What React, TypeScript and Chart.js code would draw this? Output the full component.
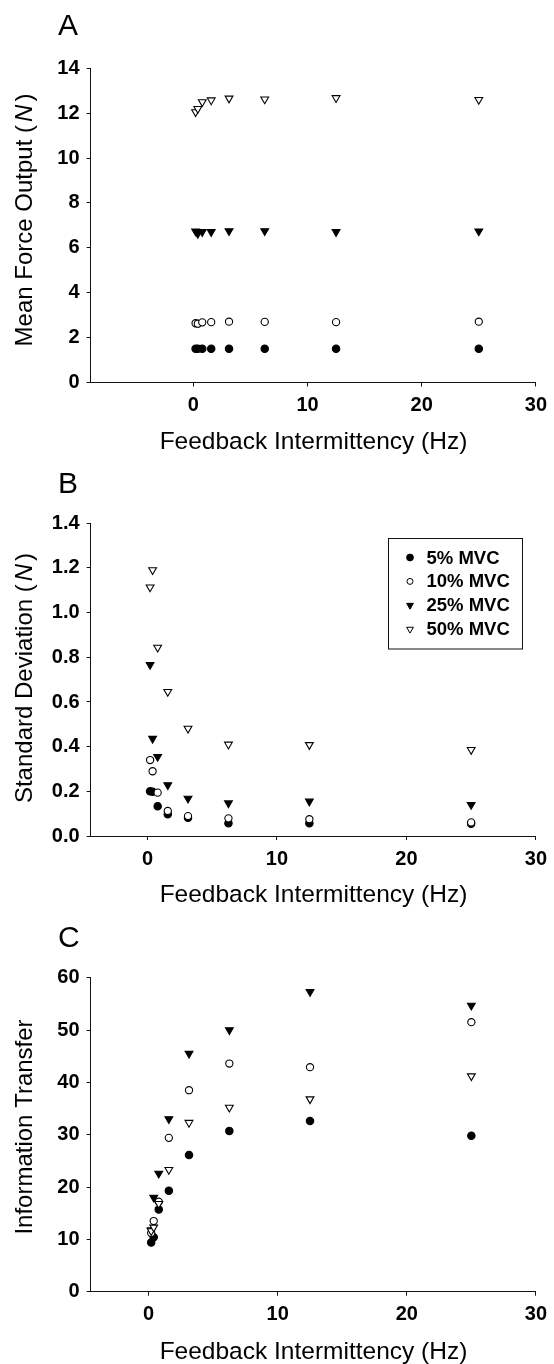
import React, { useEffect, useRef } from 'react';
import { Chart, registerables } from 'chart.js';

Chart.register(...registerables);

// ---------- data ----------
const freqHz = [0.195, 0.39, 0.78, 1.5625, 3.125, 6.25, 12.5, 25];
const seriesLabels = ['5% MVC', '10% MVC', '25% MVC', '50% MVC'];

// Panel A: mean force output (N)
const forceMvc5 = [1.5, 1.5, 1.5, 1.5, 1.5, 1.5, 1.5, 1.5];
const forceMvc10 = [2.64, 2.62, 2.68, 2.69, 2.71, 2.7, 2.69, 2.71];
const forceMvc25 = [6.74, 6.63, 6.71, 6.71, 6.75, 6.75, 6.71, 6.74];
const forceMvc50 = [12.05, 12.2, 12.5, 12.58, 12.66, 12.62, 12.68, 12.6];

// Panel B: standard deviation (N)
const sdMvc5 = [0.2, 0.198, 0.133, 0.097, 0.082, 0.057, 0.057, 0.055];
const sdMvc10 = [0.34, 0.29, 0.194, 0.112, 0.089, 0.079, 0.075, 0.061];
const sdMvc25 = [0.767, 0.436, 0.355, 0.228, 0.168, 0.147, 0.155, 0.14];
const sdMvc50 = [1.114, 1.191, 0.844, 0.646, 0.481, 0.41, 0.408, 0.386];

// Panel C: information transfer
const itMvc5 = [9.4, 10.4, 15.7, 19.3, 26.1, 30.7, 32.6, 29.8];
const itMvc10 = [11.2, 13.5, 17.2, 29.4, 38.5, 43.6, 42.9, 51.5];
const itMvc25 = [11.8, 18.0, 22.6, 33.0, 45.5, 50.0, 57.3, 54.7];
const itMvc50 = [11.6, 12.3, 16.8, 23.3, 32.3, 35.2, 36.8, 41.2];

// ticks
const xTickValues = [0, 10, 20, 30];
const forceTicks = [0, 2, 4, 6, 8, 10, 12, 14];
const sdTicks = [0, 0.2, 0.4, 0.6, 0.8, 1.0, 1.2, 1.4];
const itTicks = [0, 10, 20, 30, 40, 50, 60];

const xTitle = 'Feedback Intermittency (Hz)';

// ---------- styling ----------
const FONT = "'Liberation Sans', Arial, Helvetica, sans-serif";
const INK = '#111';
const PAGE_W = 554;
const AXIS_LEFT = 90.6;
const AXIS_RIGHT = 538;

const seriesStyle = [
  { pointStyle: 'circle', fill: '#000', radius: 3.7, rotation: 0, order: 4 },
  { pointStyle: 'circle', fill: '#fff', radius: 3.6, rotation: 0, order: 3 },
  { pointStyle: 'triangle', fill: '#000', radius: 4.5, rotation: 180, order: 2 },
  { pointStyle: 'triangle', fill: '#fff', radius: 4.5, rotation: 180, order: 1 },
];

type Panel = {
  letter: string;
  top: number;
  height: number;
  plotTop: number;
  plotBottom: number;
  xMin: number;
  yMin: number;
  yMax: number;
  yTicks: number[];
  decimals: number;
  series: number[][];
  yTitle: [string, string, string];
  yTitleCenter: number;
  letterBaseline: number;
  xTitleBaseline: number;
  legend: boolean;
};

const panels: Panel[] = [
  {
    letter: 'A', top: 0, height: 460, plotTop: 68.3, plotBottom: 382.5,
    xMin: -9, yMin: 0, yMax: 14, yTicks: forceTicks, decimals: 0,
    series: [forceMvc5, forceMvc10, forceMvc25, forceMvc50],
    yTitle: ['Mean Force Output (', 'N', ')'], yTitleCenter: 220,
    letterBaseline: 35, xTitleBaseline: 449, legend: false,
  },
  {
    letter: 'B', top: 460, height: 455, plotTop: 523.3, plotBottom: 836,
    xMin: -4.4, yMin: 0, yMax: 1.4, yTicks: sdTicks, decimals: 1,
    series: [sdMvc5, sdMvc10, sdMvc25, sdMvc50],
    yTitle: ['Standard Deviation (', 'N', ')'], yTitleCenter: 678,
    letterBaseline: 493, xTitleBaseline: 902, legend: true,
  },
  {
    letter: 'C', top: 915, height: 449, plotTop: 977.7, plotBottom: 1291.7,
    xMin: -4.5, yMin: 0, yMax: 60, yTicks: itTicks, decimals: 0,
    series: [itMvc5, itMvc10, itMvc25, itMvc50],
    yTitle: ['Information Transfer', '', ''], yTitleCenter: 1127,
    letterBaseline: 946.5, xTitleBaseline: 1358.5, legend: false,
  },
];

function drawMarker(ctx: CanvasRenderingContext2D, kind: number, x: number, y: number) {
  ctx.save();
  ctx.beginPath();
  ctx.lineWidth = 1;
  ctx.strokeStyle = '#000';
  if (kind < 2) {
    const r = kind === 0 ? 3.4 : 3.0;
    ctx.arc(x, y, r, 0, Math.PI * 2);
  } else {
    const r = 3.9;
    const s = Math.sin(Math.PI / 3) * r;
    ctx.moveTo(x, y + r);
    ctx.lineTo(x - s, y - r / 2);
    ctx.lineTo(x + s, y - r / 2);
    ctx.closePath();
  }
  ctx.fillStyle = kind === 0 || kind === 2 ? '#000' : '#fff';
  ctx.fill();
  ctx.stroke();
  ctx.restore();
}

function makeDecor(p: Panel) {
  return {
    id: 'decor' + p.letter,
    afterDraw(chart: any) {
      const ctx: CanvasRenderingContext2D = chart.ctx;
      const off = p.top;
      ctx.save();
      ctx.fillStyle = '#000';
      // panel letter
      ctx.font = `30px ${FONT}`;
      ctx.textAlign = 'left';
      ctx.textBaseline = 'alphabetic';
      ctx.fillText(p.letter, 58, p.letterBaseline - off);
      // x title
      ctx.font = `24.5px ${FONT}`;
      ctx.textAlign = 'center';
      ctx.fillText(xTitle, 313.5, p.xTitleBaseline - off);
      // y title (rotated, with italic N)
      const [a, b, c] = p.yTitle;
      ctx.font = `24px ${FONT}`;
      const wa = ctx.measureText(a).width;
      const wc = c ? ctx.measureText(c).width : 0;
      ctx.font = `italic 24px ${FONT}`;
      const wb = b ? ctx.measureText(b).width : 0;
      const gap = b ? 3 : 0;
      const total = wa + wb + wc + gap * 2;
      ctx.translate(31.5, p.yTitleCenter - off);
      ctx.rotate(-Math.PI / 2);
      ctx.textAlign = 'left';
      let x0 = -total / 2;
      ctx.font = `24px ${FONT}`;
      ctx.fillText(a, x0, 0);
      x0 += wa + gap;
      if (b) {
        ctx.font = `italic 24px ${FONT}`;
        ctx.fillText(b, x0, 0);
        x0 += wb + gap;
        ctx.font = `24px ${FONT}`;
        ctx.fillText(c, x0, 0);
      }
      ctx.restore();

      if (p.legend) {
        ctx.save();
        ctx.strokeStyle = INK;
        ctx.lineWidth = 1;
        ctx.strokeRect(388.5, 538.5 - off, 134, 110.5);
        const rows = [557.5, 581.4, 605.3, 629.2];
        ctx.font = `bold 18.5px ${FONT}`;
        ctx.fillStyle = '#000';
        ctx.textAlign = 'left';
        ctx.textBaseline = 'middle';
        seriesLabels.forEach((lab, i) => {
          drawMarker(ctx, i, 410, rows[i] - off);
          ctx.fillText(lab, 426.5, rows[i] - off + 1);
        });
        ctx.restore();
      }
    },
  };
}

function buildChart(canvas: HTMLCanvasElement, p: Panel) {
  const tickFont = { family: FONT, size: 20, weight: 'bold' as const };
  const datasets = p.series.map((vals, si) => ({
    label: seriesLabels[si],
    data: freqHz.map((x, i) => ({ x, y: vals[i] })),
    pointStyle: seriesStyle[si].pointStyle as any,
    pointRadius: seriesStyle[si].radius,
    pointRotation: seriesStyle[si].rotation,
    pointBackgroundColor: seriesStyle[si].fill,
    pointBorderColor: '#000',
    pointBorderWidth: 1.1,
    showLine: false,
    order: seriesStyle[si].order,
    clip: false as any,
  }));
  return new Chart(canvas, {
    type: 'scatter',
    data: { datasets },
    plugins: [makeDecor(p)],
    options: {
      responsive: false,
      animation: false,
      devicePixelRatio: 1,
      events: [],
      layout: {
        padding: { left: 0, right: PAGE_W - AXIS_RIGHT, top: p.plotTop - p.top, bottom: 0 },
      },
      plugins: { legend: { display: false }, tooltip: { enabled: false }, title: { display: false } },
      scales: {
        x: {
          type: 'linear',
          min: p.xMin,
          max: 30,
          afterFit: (s: any) => { s.height = p.top + p.height - p.plotBottom; },
          afterBuildTicks: (s: any) => { s.ticks = xTickValues.map((v) => ({ value: v })); },
          grid: { drawOnChartArea: false, drawTicks: true, tickLength: 4, color: INK, lineWidth: 1 },
          border: { display: true, color: INK, width: 1 },
          ticks: { color: '#000', font: tickFont, padding: 7, maxRotation: 0, autoSkip: false },
        },
        y: {
          type: 'linear',
          min: p.yMin,
          max: p.yMax,
          afterFit: (s: any) => { s.width = AXIS_LEFT; },
          afterBuildTicks: (s: any) => { s.ticks = p.yTicks.map((v) => ({ value: v })); },
          grid: { drawOnChartArea: false, drawTicks: true, tickLength: 4, color: INK, lineWidth: 1 },
          border: { display: true, color: INK, width: 1 },
          ticks: {
            color: '#000', font: tickFont, padding: 7, autoSkip: false,
            callback: (v: any) => Number(v).toFixed(p.decimals),
          },
        },
      },
    } as any,
  });
}

export default function App() {
  const refs = useRef<(HTMLCanvasElement | null)[]>([]);
  useEffect(() => {
    const charts = panels.map((p, i) => buildChart(refs.current[i] as HTMLCanvasElement, p));
    return () => charts.forEach((c) => c.destroy());
  }, []);
  return (
    <div style={{ position: 'absolute', left: 0, top: 0, width: PAGE_W, height: 1364, background: '#fff' }}>
      {panels.map((p, i) => (
        <canvas
          key={p.letter}
          ref={(el) => { refs.current[i] = el; }}
          width={PAGE_W}
          height={p.height}
          style={{ position: 'absolute', left: 0, top: p.top, width: PAGE_W, height: p.height, display: 'block' }}
        />
      ))}
    </div>
  );
}
